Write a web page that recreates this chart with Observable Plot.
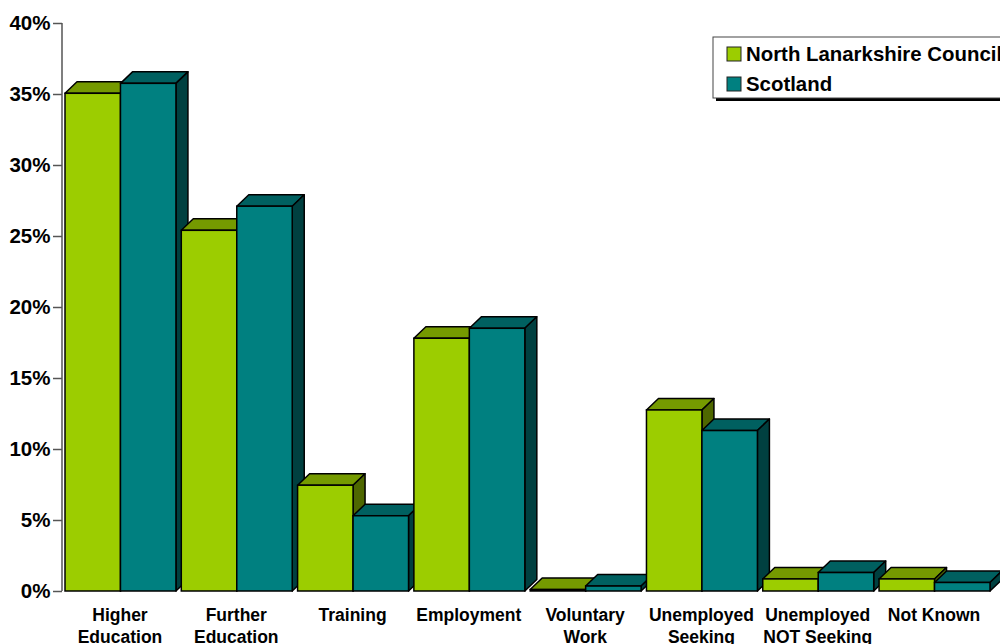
<!DOCTYPE html>
<html>
<head>
<meta charset="utf-8">
<script src="https://cdn.jsdelivr.net/npm/d3@7"></script>
<script src="https://cdn.jsdelivr.net/npm/@observablehq/plot@0.6"></script>
<style>
html,body{margin:0;padding:0;background:#fff;overflow:hidden}
svg{display:block}
</style>
</head>
<body>
<div id="chart"></div>
<script>
const categories = ["Higher\nEducation","Further\nEducation","Training","Employment","Voluntary\nWork","Unemployed\nSeeking","Unemployed\nNOT Seeking","Not Known"];
const northLanarkshire = [35.05,25.4,7.45,17.8,0.1,12.75,0.85,0.85];
const scotland = [35.75,27.1,5.3,18.5,0.35,11.3,1.3,0.6];
const seriesNames = ["North Lanarkshire Council","Scotland"];
const seriesColors = ["#9ccd00","#008080"];
const yTicks = [0,5,10,15,20,25,30,35,40];

const rows = categories.flatMap((category,i)=>[
  {category,series:seriesNames[0],value:northLanarkshire[i]},
  {category,series:seriesNames[1],value:scotland[i]}
]);

const depthX = 12, depthY = 11.5, edge = 1.5;
const shade = (c,k)=>{const r=d3.rgb(c);return d3.rgb(r.r*k,r.g*k,r.b*k).formatHex();};

function bar3d(index,scales,values,dimensions,context,next){
  const g = d3.create("svg:g");
  const w = scales.x.bandwidth();
  for(const i of index){
    const d = rows[i], x0 = scales.x(d.series), yt = scales.y(d.value), yb = scales.y(0), c = scales.color(d.series);
    g.append("path").attr("d",`M${x0},${yt}l${depthX},${-depthY}h${w}l${-depthX},${depthY}Z`)
      .attr("fill",shade(c,0.75)).attr("stroke","#000").attr("stroke-width",edge).attr("stroke-linejoin","round");
    g.append("path").attr("d",`M${x0+w},${yt}l${depthX},${-depthY}V${yb-depthY}l${-depthX},${depthY}Z`)
      .attr("fill",shade(c,0.5)).attr("stroke","#000").attr("stroke-width",edge).attr("stroke-linejoin","round");
    const node = next([i],scales,values,dimensions,context);
    if(node) g.node().appendChild(node);
  }
  return g.node();
}

function yAxisLine(index,{y},values,{marginLeft}){
  const g = d3.create("svg:g");
  g.append("line").attr("x1",marginLeft-3).attr("x2",marginLeft-3).attr("y1",y(0)).attr("y2",y(40))
    .attr("stroke","#555").attr("stroke-width",1.5);
  return g.node();
}

function legend(index,{color},values,{width}){
  const g = d3.create("svg:g").attr("font-family","'Liberation Sans',Arial,sans-serif").attr("font-weight","bold").attr("font-size",20.4).attr("text-anchor","start");
  const left = width-287, top = 37, h = 61, w = 320;
  g.append("rect").attr("x",left+3).attr("y",top+3).attr("width",w).attr("height",h).attr("fill","#000");
  g.append("rect").attr("x",left).attr("y",top).attr("width",w).attr("height",h).attr("fill","#fff").attr("stroke","#444").attr("stroke-width",1);
  seriesNames.forEach((name,i)=>{
    const yy = top+10+i*30;
    g.append("rect").attr("x",left+14).attr("y",yy).attr("width",14).attr("height",14).attr("fill",color(name)).attr("stroke","#222").attr("stroke-width",1);
    g.append("text").attr("x",left+33).attr("y",yy+14-i*0.5).attr("fill","#000").text(name);
  });
  return g.node();
}

const chart = Plot.plot({
  width:1000,height:644,
  marginLeft:65,marginRight:10,marginTop:23,marginBottom:53,
  style:{fontFamily:"'Liberation Sans',Arial,sans-serif",background:"#fff",color:"#000"},
  fx:{domain:categories,paddingInner:0.046,paddingOuter:0,round:false,label:null},
  x:{domain:seriesNames,padding:0,round:false,axis:null},
  y:{domain:[0,40],label:null,axis:null},
  color:{domain:seriesNames,range:seriesColors},
  marks:[
    Plot.axisY({ticks:yTicks,tickSize:9,tickPadding:3,dx:-3,stroke:"#555",strokeWidth:1.5,tickFormat:d=>d+"%",fontSize:20.5,fontWeight:"bold",label:null}),
    Plot.text([yTicks[0]],{facet:"super",frameAnchor:"middle",text:d=>d,render:yAxisLine}),
    Plot.axisFx({anchor:"bottom",tickSize:0,tickPadding:14,dx:-1,label:null,fontSize:17.5,fontWeight:"bold",lineHeight:1.25}),
    Plot.rectY(rows,{fx:"category",x:"series",y:"value",fill:"series",stroke:"#000",strokeWidth:edge,render:bar3d}),
    Plot.text(seriesNames,{facet:"super",frameAnchor:"middle",text:d=>d,fill:d=>d,render:legend})
  ]
});
document.getElementById("chart").appendChild(chart);
</script>
</body>
</html>
